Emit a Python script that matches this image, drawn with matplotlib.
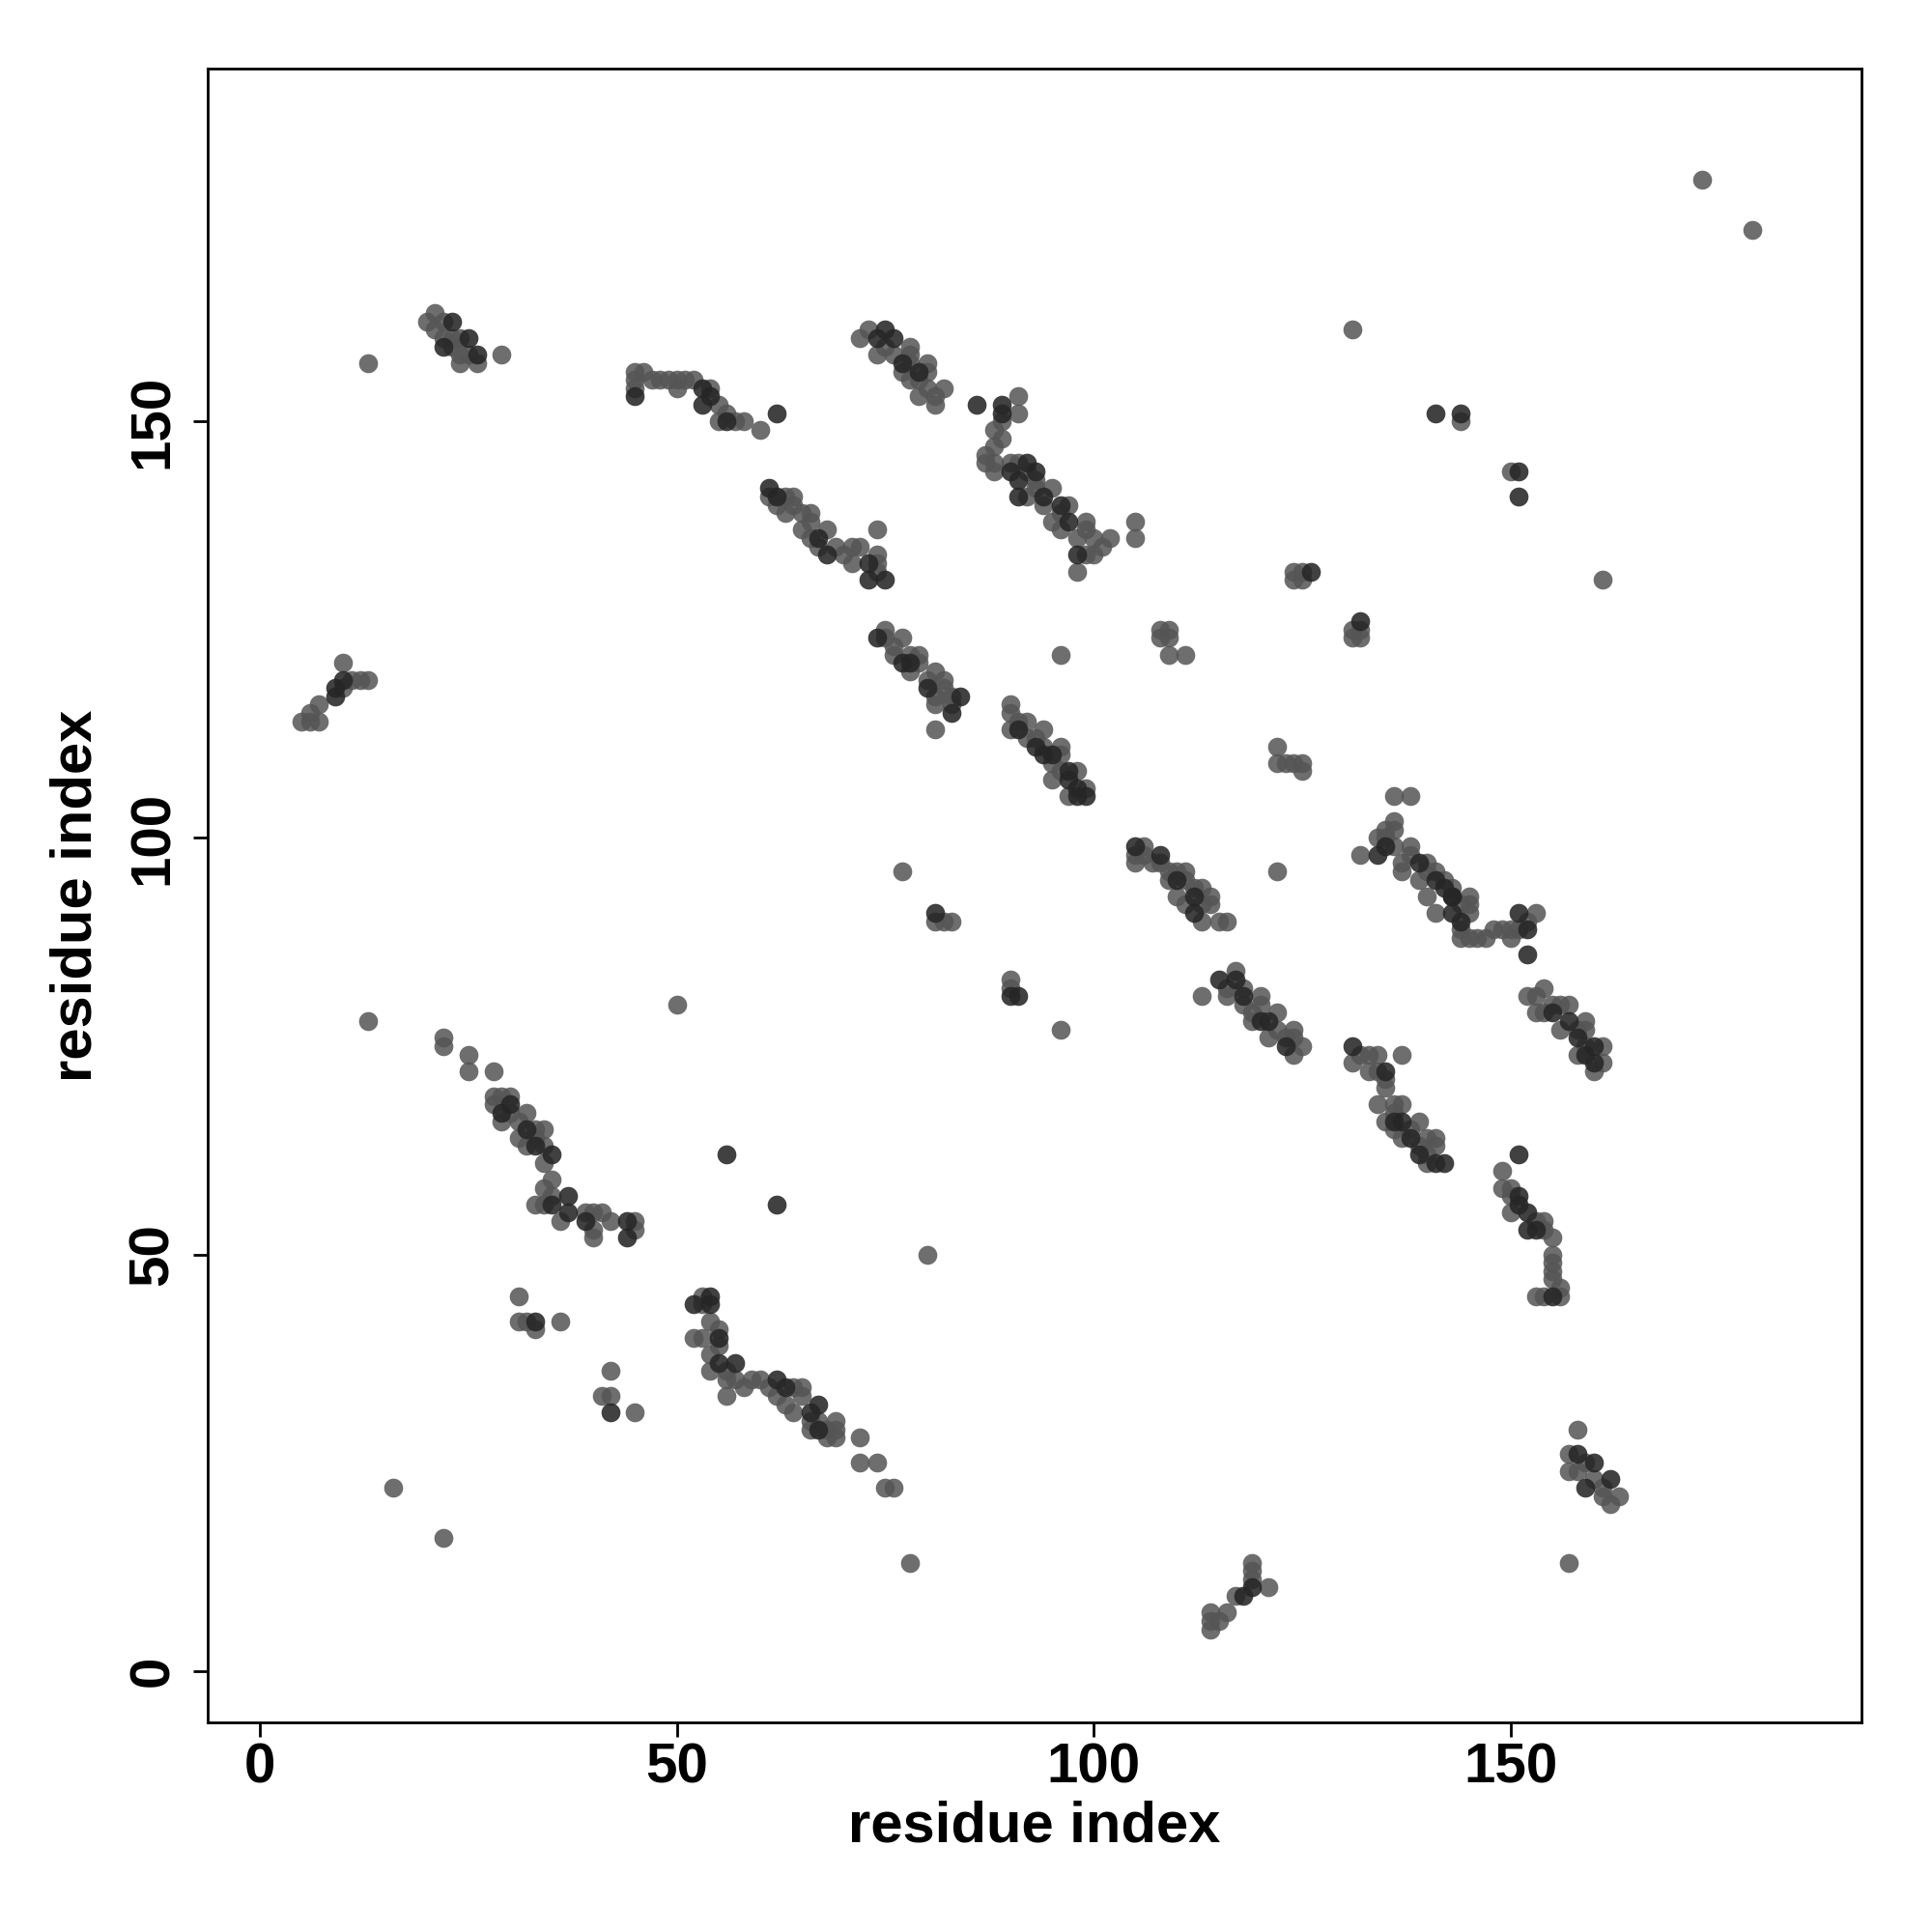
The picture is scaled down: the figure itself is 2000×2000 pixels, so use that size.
import matplotlib
matplotlib.use("Agg")
import matplotlib.pyplot as plt

# contact pairs (residue i, residue j)
light_pairs = [
    (13,157),(20,162),(21,163),(21,161),(22,162),(22,160),(23,160),(24,160),(23,159),(25,158),(24,157),(26,157),(24,158),(29,158),
    (45,156),(45,155),(45,154),(46,156),(47,155),(48,155),(49,155),(50,155),(51,155),(52,155),(50,154),(54,154),(55,152),(56,151),(55,150),(57,150),(58,150),(60,149),
    (72,160),(73,161),(74,158),(75,159),(76,158),(78,159),(78,158),(77,156),(78,157),(80,157),(80,156),(78,155),(79,153),(80,154),(82,154),(81,152),(81,153),(79,155),
    (91,153),(91,151),(89,150),(88,149),(89,148),(88,147),(87,146),(87,145),(88,144),(88,145),(90,145),(91,145),(92,144),(93,143),(95,142),(92,141),(94,140),(95,138),(96,137),(99,138),(99,137),(98,136),(100,136),(102,136),(100,134),(98,132),(97,140),(96,139),(105,138),(105,136),(101,135),(99,134),(93,142),
    (61,141),(63,141),(64,141),(64,140),(63,139),(66,139),(66,138),(65,137),(66,136),(68,137),(67,135),(69,135),(71,135),(72,135),(71,133),(74,134),(74,133),(74,132),(74,137),(62,140),(65,139),(70,134),
    (75,125),(75,124),(77,124),(76,123),(76,122),(78,122),(79,122),(78,120),(81,120),(80,119),(82,118),(81,117),(83,117),(81,116),(83,116),(81,113),(79,121),(82,119),
    (90,116),(90,115),(90,113),(91,114),(92,114),(94,113),(92,112),(94,111),(96,111),(96,110),(95,109),(98,108),(96,108),(95,107),(97,105),(99,106),(93,112),
    (106,99),(105,98),(105,97),(106,98),(107,97),(111,96),(109,96),(110,96),(113,94),(109,95),(111,95),(114,93),(112,94),(108,97),
    (110,93),(111,92),(113,92),(114,92),(113,90),(115,90),(116,90),
    (117,84),(116,82),(118,82),(116,81),(120,81),(119,79),(120,80),(122,79),(119,78),(121,76),(122,77),(124,77),(124,76),(125,75),(124,74),(113,81),(118,80),(123,76),
    (77,96),(96,122),(122,96),(96,77),(50,80),(80,50),(13,78),(16,22),(22,16),(78,13),(157,13),(173,179),(179,173),(131,161),(161,131),
    (81,90),(82,90),(83,90),(90,83),(90,82),
    (108,125),(109,125),(108,124),(109,124),(109,122),(111,122),
    (122,111),(122,109),(124,109),(125,109),(125,108),(123,109),
    (124,132),(125,132),(124,131),(125,131),
    (132,125),(131,125),(132,124),(131,124),
    (144,150),(150,144),(136,105),(138,105),
    (136,102),(136,101),(135,101),(134,100),(132,98),(136,99),(138,99),(138,98),(137,96),(140,97),(140,96),(142,95),(139,95),(143,94),(145,93),(135,100),(137,97),(141,96),(144,92),
    (140,93),(141,91),(145,92),(145,91),(144,89),(145,88),(144,88),(146,88),(148,89),(149,89),(150,89),(150,88),(153,91),(152,90),(151,89),(147,88),
    (154,82),(152,81),(153,81),(153,79),(156,80),(157,80),(156,77),(159,78),(159,77),(158,77),(158,74),(159,75),(161,75),(161,73),(160,72),(155,80),(154,79),
    (131,73),(132,74),(133,74),(134,74),(137,74),(133,72),(134,72),(135,71),(134,68),(135,70),(136,68),(137,68),(136,67),(135,66),(136,65),(139,66),(137,64),(139,63),(140,64),(141,64),(140,62),(141,63),(140,61),(138,65),
    (149,60),(149,58),(150,58),(150,57),(150,55),(153,54),(154,54),(154,53),(155,52),(155,50),(155,49),(155,48),(156,46),(153,45),(154,45),(156,45),(155,47),
    (158,29),(157,26),(157,24),(159,25),(161,21),(163,21),(162,20),(158,24),(160,23),(161,22),
    (22,76),(22,75),(25,74),(25,72),(28,72),(28,69),(30,69),(29,69),(28,68),(32,67),(29,66),(31,66),(34,65),(31,64),(32,63),(33,64),(34,63),(34,61),(35,59),(34,58),(35,57),(33,56),(34,56),(36,54),(39,55),(40,55),(40,53),(40,52),(41,55),(42,54),(45,54),(45,53),(33,65),(30,67),
    (31,45),(31,42),(32,42),(33,41),(36,42),(42,36),(41,33),(42,33),(45,31),
    (53,44),(54,42),(55,41),(52,40),(53,40),(55,39),(54,36),(56,36),(56,35),(57,35),(56,33),(58,34),(59,35),(60,35),(61,34),(62,33),(64,34),(65,34),(65,33),(64,31),(66,30),(66,29),(67,30),(68,28),(69,30),(69,29),(69,28),(68,29),(63,32),(53,45),(54,38),
    (72,28),(72,25),(74,25),(75,22),(76,22),
    (119,13),(119,12),(119,11),(121,10),(117,9),(116,7),(114,7),(114,6),(114,5),(115,6),
    (10,121),(13,119),(12,119),(11,119),(10,118),(7,116),(6,115),(5,114),(6,114),(7,114),
]

dark_pairs = [
    (23,162),(22,159),(25,160),(26,158),
    (45,153),(53,154),(53,152),(54,153),(56,150),(62,151),
    (75,161),(74,160),(76,160),(77,157),(79,156),(86,152),
    (89,152),(89,151),(92,145),(91,143),(91,141),(94,141),(97,138),(98,134),(96,140),(93,144),(90,144),
    (61,142),(67,136),(68,134),(73,133),(73,131),(75,131),(62,141),
    (74,124),(77,121),(84,117),(80,118),(83,115),(78,121),
    (91,113),(93,111),(94,110),(95,110),(97,107),(98,105),(99,105),(97,108),(98,106),
    (105,99),(108,98),(110,95),(112,93),(112,91),
    (115,83),(120,78),(117,83),(121,78),(123,75),(118,81),
    (81,91),(90,81),(91,81),(126,132),(132,126),
    (141,151),(144,151),(151,144),(151,141),
    (134,98),(135,99),(139,97),(141,95),(143,93),(142,94),
    (143,93),(151,91),(152,89),(144,90),(143,91),(152,86),
    (155,79),(157,78),(160,75),(160,73),(158,76),(159,74),
    (131,75),(135,72),(136,66),(137,66),(138,64),(142,61),(139,62),(141,61),(151,62),
    (151,56),(152,55),(152,53),(151,57),(153,53),(155,45),
    (158,26),(160,25),(159,22),(162,23),
    (29,67),(35,62),(37,57),(37,55),(44,54),(44,52),(30,68),(32,65),(33,63),(35,56),(39,54),
    (33,42),(42,31),(56,62),(62,56),
    (52,44),(54,44),(54,45),(55,37),(57,37),(62,35),(63,34),(67,32),(66,31),(67,29),(55,40),
    (119,10),(118,9),
    (9,118),(9,117),(10,119),
]

ticks = [0, 50, 100, 150]

plt.rcParams['font.family'] = ['Liberation Sans', 'DejaVu Sans']
plt.rcParams['font.weight'] = 'bold'

fig = plt.figure(figsize=(20, 20), dpi=100)
ax = fig.add_axes([0.1075, 0.1085, 0.856, 0.856])

lx, ly = zip(*light_pairs)
dx, dy = zip(*dark_pairs)
ax.scatter(lx, ly, s=200, c='#555555', alpha=0.85, linewidths=0)
ax.scatter(dx, dy, s=200, c='#262626', alpha=0.88, linewidths=0)

ax.set_xlim(-6.27, 192.1)
ax.set_ylim(-6.19, 192.37)
ax.set_xticks(ticks)
ax.set_yticks(ticks)
ax.tick_params(direction='out', length=11, width=2, labelsize=42, pad=4)
ax.tick_params(axis='y', pad=10)
for lab in ax.get_yticklabels():
    lab.set_rotation(90)
    lab.set_va('center')
for lab in ax.get_xticklabels() + ax.get_yticklabels():
    lab.set_fontweight('bold')
for sp in ax.spines.values():
    sp.set_linewidth(2)

ax.set_xlabel('residue index', fontsize=43, fontweight='bold', labelpad=4)
ax.set_ylabel('residue index', fontsize=43, fontweight='bold', labelpad=18)

fig.savefig('out.png', dpi=100, facecolor='white')
